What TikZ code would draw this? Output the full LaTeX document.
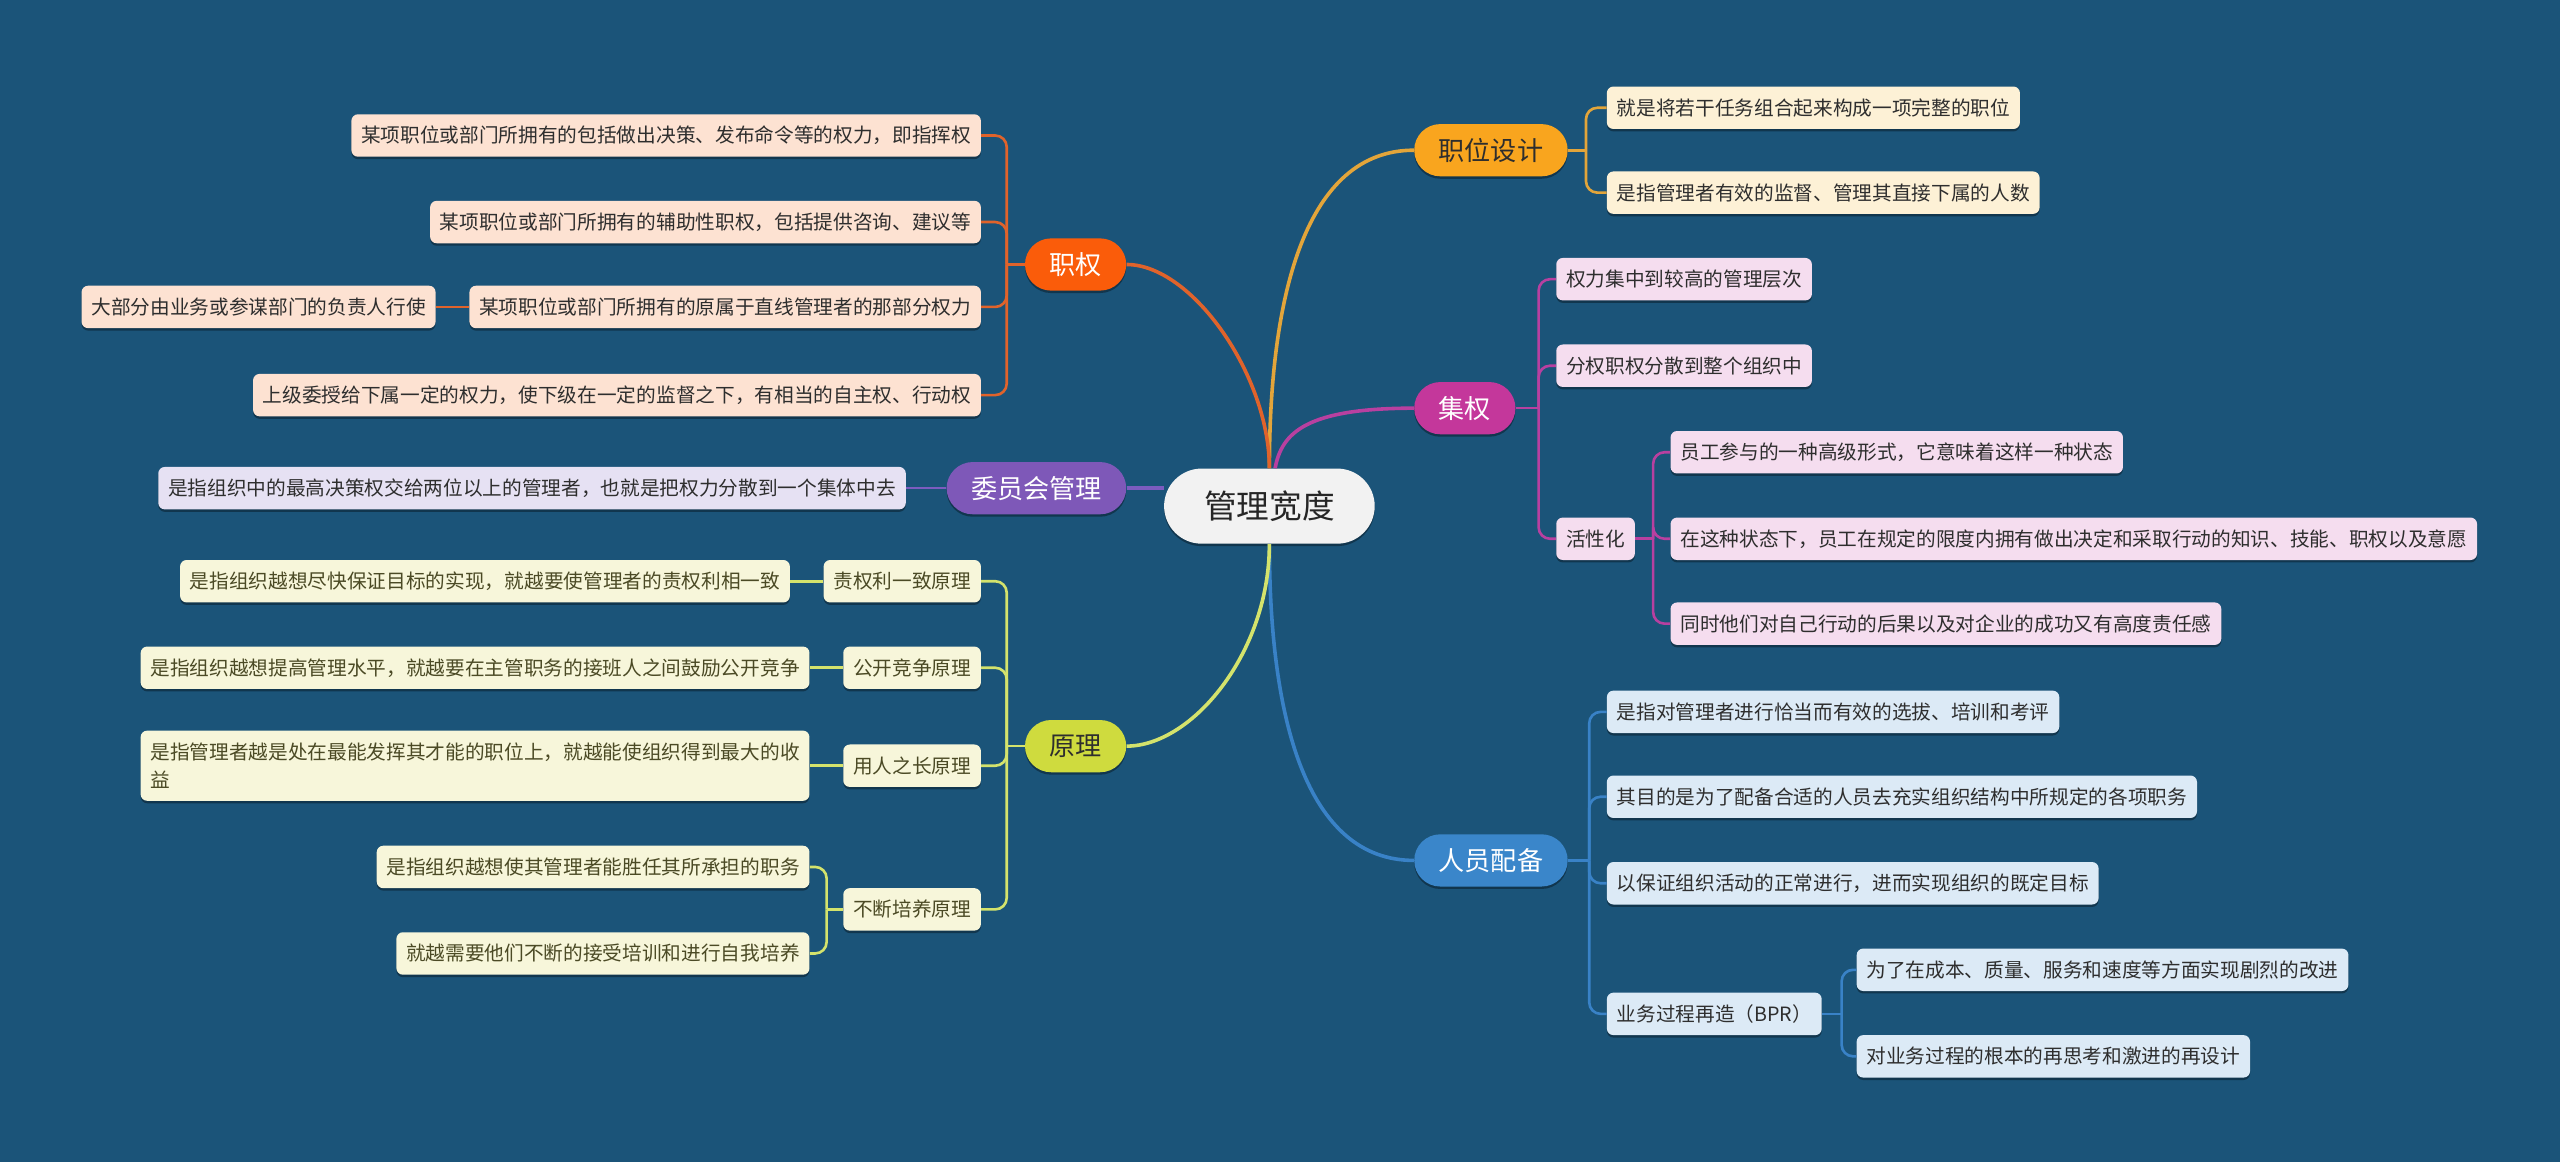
\documentclass[tikz,border=0pt]{standalone}
\usepackage{fontspec}
\setmainfont{Noto Sans CJK SC}
\usetikzlibrary{shadows}
\definecolor{bg}{HTML}{1B5479}
\definecolor{zwc}{HTML}{F9A51E}\definecolor{zwl}{HTML}{E3A53A}\definecolor{zwf}{HTML}{FDF1D6}
\definecolor{jqc}{HTML}{C4379B}\definecolor{jql}{HTML}{B840A0}\definecolor{jqf}{HTML}{F5DDEF}
\definecolor{ryc}{HTML}{3A86CA}\definecolor{ryl}{HTML}{3982C7}\definecolor{ryf}{HTML}{DCEAF6}
\definecolor{zqc}{HTML}{FA5C0A}\definecolor{zql}{HTML}{E0632B}\definecolor{zqf}{HTML}{FDE2D2}
\definecolor{wyc}{HTML}{7E58B8}\definecolor{wyl}{HTML}{7C5CBF}\definecolor{wyf}{HTML}{E6E1F3}
\definecolor{ylc}{HTML}{CFDB3E}\definecolor{yll}{HTML}{D4E36C}\definecolor{ylf}{HTML}{F7F6DA}
\definecolor{txt}{HTML}{2E2E2E}\definecolor{oltxt}{HTML}{4B4A25}
\tikzset{
  shad/.style={drop shadow={shadow xshift=0pt,shadow yshift=-1.5pt,opacity=.35,fill=black}},
  center/.style={shad,fill=white!95!black,rounded corners=23pt,minimum height=46pt,inner xsep=24.5pt,inner ysep=0pt,
    font=\fontsize{20}{24}\selectfont,text=black!85},
  mainbox/.style={shad,rounded corners=16pt,minimum height=32pt,inner xsep=15pt,inner ysep=0pt,
    font=\fontsize{16}{19}\selectfont,text=white},
  leaf/.style={shad,rounded corners=4pt,minimum height=26pt,inner xsep=6pt,inner ysep=0pt,
    font=\fontsize{12.05}{17}\selectfont,text=txt},
  mline/.style={line width=2.2pt},
  bline/.style={line width=1.6pt,rounded corners=7pt},
}
\newcommand\rbr[4]{\draw[bline,#4] (#1.east) -- ([xshift=#3]#1.east);\draw[bline,#4] ([xshift=#3]#1.east) |- (#2.west);}
\newcommand\lbr[4]{\draw[bline,#4] (#1.west) -- ([xshift=-#3]#1.west);\draw[bline,#4] ([xshift=-#3]#1.west) |- (#2.east);}
\begin{document}
\begin{tikzpicture}[x=1pt,y=-1pt]
\fill[bg] (0,0) rectangle (1568,711.7);
\useasboundingbox (0,0) rectangle (1568,711.7);

% center
\node[center] (c) at (777.5,310) {管理宽度};
% main branches
\node[mainbox,fill=zwc,text=txt,anchor=west] (zw) at (866,92) {职位设计};
\node[mainbox,fill=jqc,anchor=west] (jq) at (866,250) {集权};
\node[mainbox,fill=ryc,anchor=west] (ry) at (866,527) {人员配备};
\node[mainbox,fill=zqc,anchor=east] (zq) at (690,162) {职权};
\node[mainbox,fill=wyc,anchor=east] (wy) at (690,299) {委员会管理};
\node[mainbox,fill=ylc,text=txt,anchor=east] (yl) at (690,457) {原理};

\draw[mline,zwl] (c.north) .. controls (777.5,180) and (800,92) .. (zw.west);
\draw[mline,jql] ([xshift=3.5pt]c.north) .. controls (785,265) and (800,250) .. (jq.west);
\draw[mline,ryl] (c.south) .. controls (777.5,440) and (800,527) .. (ry.west);
\draw[mline,zql] (c.north) .. controls (777.5,230) and (730,162) .. (zq.east);
\draw[mline,yll] (c.south) .. controls (777.5,400) and (730,457) .. (yl.east);
\draw[mline,wyl] (wy.east) -- (wy.east -| c.west);

% 职位设计
\node[leaf,fill=zwf,anchor=west] (zw1) at (984,66) {就是将若干任务组合起来构成一项完整的职位};
\node[leaf,fill=zwf,anchor=west] (zw2) at (984,118) {是指管理者有效的监督、管理其直接下属的人数};
\rbr{zw}{zw1}{11pt}{zwl}\rbr{zw}{zw2}{11pt}{zwl}

% 集权
\node[leaf,fill=jqf,anchor=west] (jq1) at (953,171) {权力集中到较高的管理层次};
\node[leaf,fill=jqf,anchor=west] (jq2) at (953,224) {分权职权分散到整个组织中};
\node[leaf,fill=jqf,anchor=west] (jq3) at (953,330) {活性化};
\rbr{jq}{jq1}{14pt}{jql}\rbr{jq}{jq2}{14pt}{jql}\rbr{jq}{jq3}{14pt}{jql}
\node[leaf,fill=jqf,anchor=west] (h1) at (1023,277) {员工参与的一种高级形式，它意味着这样一种状态};
\node[leaf,fill=jqf,anchor=west] (h2) at (1023,330) {在这种状态下，员工在规定的限度内拥有做出决定和采取行动的知识、技能、职权以及意愿};
\node[leaf,fill=jqf,anchor=west] (h3) at (1023,382) {同时他们对自己行动的后果以及对企业的成功又有高度责任感};
\rbr{jq3}{h1}{11pt}{jql}\rbr{jq3}{h2}{11pt}{jql}\rbr{jq3}{h3}{11pt}{jql}

% 人员配备
\node[leaf,fill=ryf,anchor=west] (ry1) at (984,436) {是指对管理者进行恰当而有效的选拔、培训和考评};
\node[leaf,fill=ryf,anchor=west] (ry2) at (984,488) {其目的是为了配备合适的人员去充实组织结构中所规定的各项职务};
\node[leaf,fill=ryf,anchor=west] (ry3) at (984,541) {以保证组织活动的正常进行，进而实现组织的既定目标};
\node[leaf,fill=ryf,anchor=west] (ry4) at (984,621) {业务过程再造（BPR）};
\rbr{ry}{ry1}{13pt}{ryl}\rbr{ry}{ry2}{13pt}{ryl}\rbr{ry}{ry3}{13pt}{ryl}\rbr{ry}{ry4}{13pt}{ryl}
\node[leaf,fill=ryf,anchor=west] (b1) at (1137,594) {为了在成本、质量、服务和速度等方面实现剧烈的改进};
\node[leaf,fill=ryf,anchor=west] (b2) at (1137,647) {对业务过程的根本的再思考和激进的再设计};
\rbr{ry4}{b1}{12pt}{ryl}\rbr{ry4}{b2}{12pt}{ryl}

% 职权
\node[leaf,fill=zqf,anchor=east] (zq1) at (601,83) {某项职位或部门所拥有的包括做出决策、发布命令等的权力，即指挥权};
\node[leaf,fill=zqf,anchor=east] (zq2) at (601,136) {某项职位或部门所拥有的辅助性职权，包括提供咨询、建议等};
\node[leaf,fill=zqf,anchor=east] (zq3) at (601,188) {某项职位或部门所拥有的原属于直线管理者的那部分权力};
\node[leaf,fill=zqf,anchor=east] (zq4) at (601,242) {上级委授给下属一定的权力，使下级在一定的监督之下，有相当的自主权、行动权};
\lbr{zq}{zq1}{11pt}{zql}\lbr{zq}{zq2}{11pt}{zql}\lbr{zq}{zq3}{11pt}{zql}\lbr{zq}{zq4}{11pt}{zql}
\node[leaf,fill=zqf,anchor=east] (zq3a) at (267,188) {大部分由业务或参谋部门的负责人行使};
\draw[bline,zql] (zq3.west) -- (zq3a.east);

% 委员会管理
\node[leaf,fill=wyf,anchor=east] (wy1) at (555,299) {是指组织中的最高决策权交给两位以上的管理者，也就是把权力分散到一个集体中去};
\draw[bline,wyl] (wy.west) -- (wy1.east);

% 原理
\node[leaf,fill=ylf,text=oltxt,anchor=east] (y1) at (601,356) {责权利一致原理};
\node[leaf,fill=ylf,text=oltxt,anchor=east] (y2) at (601,409) {公开竞争原理};
\node[leaf,fill=ylf,text=oltxt,anchor=east] (y3) at (601,469) {用人之长原理};
\node[leaf,fill=ylf,text=oltxt,anchor=east] (y4) at (601,557) {不断培养原理};
\lbr{yl}{y1}{11pt}{yll}\lbr{yl}{y2}{11pt}{yll}\lbr{yl}{y3}{11pt}{yll}\lbr{yl}{y4}{11pt}{yll}
\node[leaf,fill=ylf,text=oltxt,anchor=east] (y1a) at (484,356) {是指组织越想尽快保证目标的实现，就越要使管理者的责权利相一致};
\node[leaf,fill=ylf,text=oltxt,anchor=east] (y2a) at (496,409) {是指组织越想提高管理水平，就越要在主管职务的接班人之间鼓励公开竞争};
\node[leaf,fill=ylf,text=oltxt,anchor=east,align=left,minimum height=43pt] (y3a) at (496,469) {是指管理者越是处在最能发挥其才能的职位上，就越能使组织得到最大的收\\益};
\draw[bline,yll] (y1.west) -- (y1a.east);
\draw[bline,yll] (y2.west) -- (y2a.east);
\draw[bline,yll] (y3.west) -- (y3a.east);
\node[leaf,fill=ylf,text=oltxt,anchor=east] (y4a) at (496,531) {是指组织越想使其管理者能胜任其所承担的职务};
\node[leaf,fill=ylf,text=oltxt,anchor=east] (y4b) at (496,584) {就越需要他们不断的接受培训和进行自我培养};
\lbr{y4}{y4a}{10pt}{yll}\lbr{y4}{y4b}{10pt}{yll}
\end{tikzpicture}
\end{document}
